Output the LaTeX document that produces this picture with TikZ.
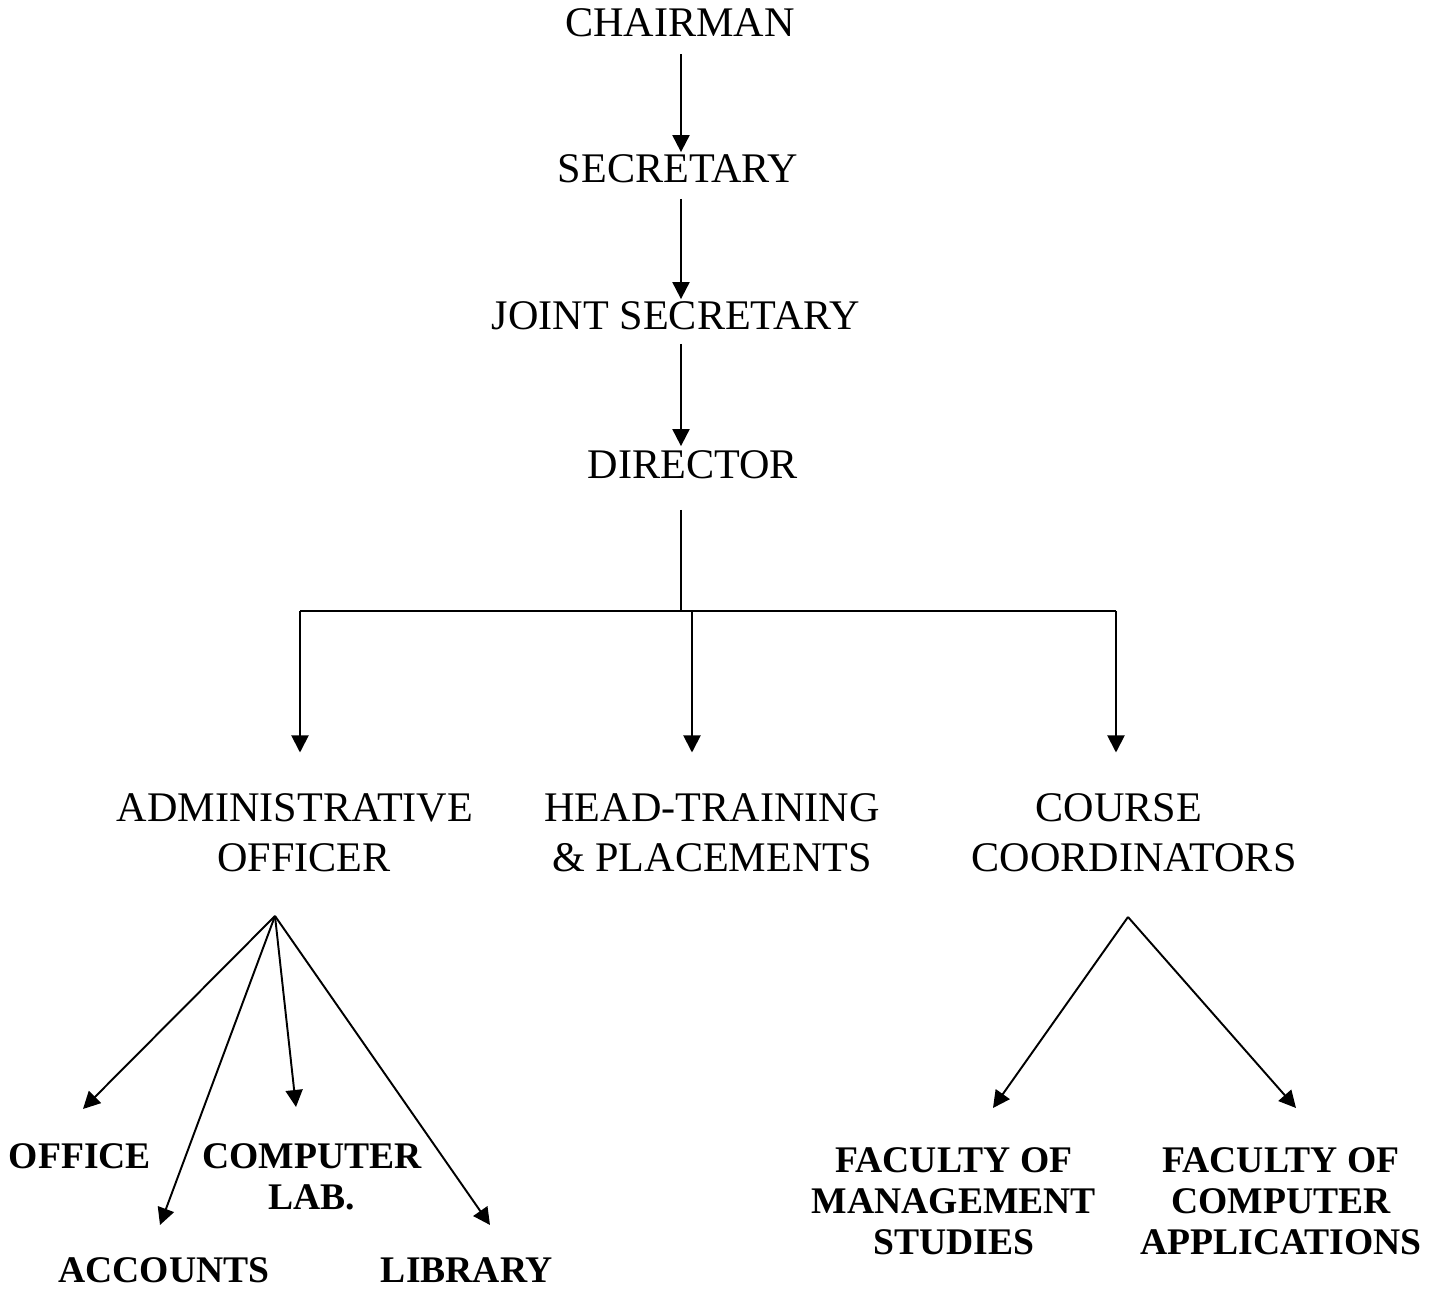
\documentclass[tikz,border=0pt]{standalone}
\usepackage{fontspec}
\setmainfont{Liberation Serif}
\usetikzlibrary{arrows.meta}
\tikzset{
  post/.style={font=\fontsize{12}{14.3}\selectfont, inner sep=0pt, align=center},
  unit/.style={font=\fontsize{10.7}{11.7}\selectfont\bfseries, inner sep=0pt, align=center},
  link/.style={line width=0.55pt, draw=black},
  feed/.style={link, -{Triangle[length=0.17cm, width=0.17cm]}},
}
\begin{document}
\begin{tikzpicture}
\useasboundingbox (0,0) rectangle (14.39,13.01);
% top of the chart
\node[post] (chair) at (6.80,12.785) {CHAIRMAN};
\node[post] (sec) at (6.78,11.32) {SECRETARY};
\node[post] (joint) at (6.76,9.85) {JOINT SECRETARY};
\node[post] (dir) at (6.93,8.36) {DIRECTOR};
\coordinate (spine) at (6.81,0);
\draw[feed, shorten <=0.17cm, shorten >=0.02cm] (spine |- chair.south) -- (spine |- sec.north);
\draw[feed, shorten <=0.15cm, shorten >=0.02cm] (spine |- sec.south) -- (spine |- joint.north);
\draw[feed, shorten <=0.13cm, shorten >=0.04cm] (spine |- joint.south) -- (spine |- dir.north);
% second level
\node[post] (admin) at (2.95,4.685) {ADMINISTRATIVE\\\hspace*{0.18cm}OFFICER};
\node[post] (head) at (7.12,4.685) {HEAD-TRAINING\\\& PLACEMENTS};
\node[post] (course) at (11.34,4.685) {COURSE\hspace*{0.30cm}\\COORDINATORS};
\coordinate (hub) at (6.81,6.90);
\coordinate (barL) at (3.00,6.90);
\coordinate (barM) at (6.92,6.90);
\coordinate (barR) at (11.16,6.90);
\draw[link, shorten <=0.30cm] (hub |- dir.south) -- (hub);
\draw[link] (barL) -- (barR);
\draw[feed, shorten >=0.40cm] (barL) -- (barL |- admin.north);
\draw[feed, shorten >=0.40cm] (barM) -- (barM |- head.north);
\draw[feed, shorten >=0.40cm] (barR) -- (barR |- course.north);
% sections under the administrative officer
\node[unit] (office) at (0.80,1.45) {OFFICE};
\node[unit] (lab) at (3.12,1.245) {COMPUTER\\LAB.};
\node[unit] (acc) at (1.64,0.31) {ACCOUNTS};
\node[unit] (lib) at (4.67,0.31) {LIBRARY};
\coordinate (adminfan) at (2.75,3.85);
\coordinate (officetip) at (0.83,1.92);
\coordinate (labtip) at (2.96,1.94);
\coordinate (acctip) at (1.60,0.76);
\coordinate (libtip) at (4.90,0.76);
\draw[feed] (adminfan) -- (officetip);
\draw[feed] (adminfan) -- (acctip);
\draw[feed] (adminfan) -- (labtip);
\draw[feed] (adminfan) -- (libtip);
% faculties under the course coordinators
\node[unit] (fms) at (9.54,1.00) {FACULTY OF\\MANAGEMENT\\STUDIES};
\node[unit] (fca) at (12.81,1.00) {FACULTY OF\\COMPUTER\\APPLICATIONS};
\coordinate (coursefan) at (11.28,3.84);
\coordinate (fmstip) at (9.93,1.93);
\coordinate (fcatip) at (12.96,1.93);
\draw[feed] (coursefan) -- (fmstip);
\draw[feed] (coursefan) -- (fcatip);
\end{tikzpicture}
\end{document}
